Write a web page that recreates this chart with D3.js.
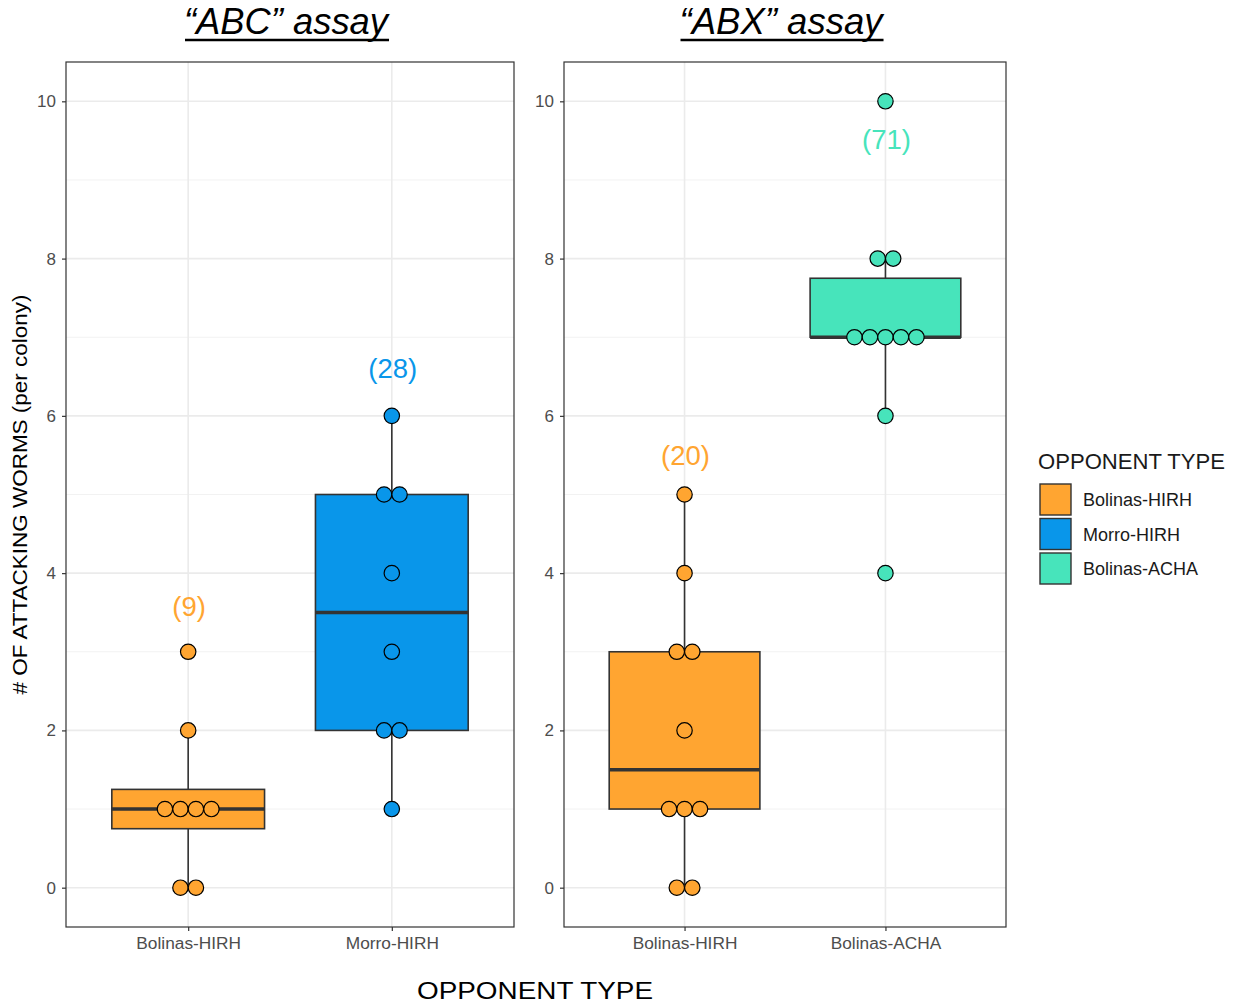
<!DOCTYPE html>
<html><head><meta charset="utf-8">
<script src="https://cdn.jsdelivr.net/npm/d3@7"></script>
<style>body{margin:0;background:#fff}svg{display:block}text{font-family:"Liberation Sans",Arial,sans-serif}</style>
</head><body><svg id="c" width="1237" height="1005"></svg>
<script>
// ---- data ----
const panelTitles = ["\u201CABC\u201D assay", "\u201CABX\u201D assay"];
const abcCategories = ["Bolinas-HIRH", "Morro-HIRH"];
const abxCategories = ["Bolinas-HIRH", "Bolinas-ACHA"];
const abcBolinasHIRH = [0, 0, 1, 1, 1, 1, 2, 3];
const abcMorroHIRH = [1, 2, 2, 3, 4, 5, 5, 6];
const abxBolinasHIRH = [0, 0, 1, 1, 1, 2, 3, 3, 4, 5];
const abxBolinasACHA = [4, 6, 7, 7, 7, 7, 7, 8, 8, 10];
const abcCountLabels = ["(9)", "(28)"];
const abxCountLabels = ["(20)", "(71)"];
const abcLabelY = [3.57, 6.6];
const abxLabelY = [5.5, 9.52];
const yTicks = [0, 2, 4, 6, 8, 10];
const yMinor = [1, 3, 5, 7, 9];
const legendLabels = ["Bolinas-HIRH", "Morro-HIRH", "Bolinas-ACHA"];
const legendColors = ["#FFA531", "#0996EA", "#47E4BB"];

(function () {
const color = d3.scaleOrdinal().domain(legendLabels).range(legendColors);
const svg = d3.select("#c");
const pTop = 62, pBottom = 927;
const y = d3.scaleLinear().domain([-0.5, 10.5]).range([pBottom, pTop]);

const panels = [
  {x0: 66, x1: 514, title: panelTitles[0], cats: abcCategories, vals: [abcBolinasHIRH, abcMorroHIRH], labels: abcCountLabels, ly: abcLabelY, tw: 204},
  {x0: 564, x1: 1006, title: panelTitles[1], cats: abxCategories, vals: [abxBolinasHIRH, abxBolinasACHA], labels: abxCountLabels, ly: abxLabelY, tw: 203}
];

const dotD = 15.5, dotR = 7.7;

panels.forEach(p => {
  const x = d3.scalePoint().domain(p.cats).range([p.x0, p.x1]).padding(0.6);
  const step = x.step();
  const g = svg.append("g");
  // grid
  g.selectAll(".ymin").data(yMinor).join("line")
    .attr("x1", p.x0).attr("x2", p.x1).attr("y1", d => y(d)).attr("y2", d => y(d))
    .attr("stroke", "#F2F2F2").attr("stroke-width", 1);
  g.selectAll(".ymaj").data(yTicks).join("line")
    .attr("x1", p.x0).attr("x2", p.x1).attr("y1", d => y(d)).attr("y2", d => y(d))
    .attr("stroke", "#EBEBEB").attr("stroke-width", 1.6);
  g.selectAll(".xg").data(p.cats).join("line")
    .attr("x1", d => x(d)).attr("x2", d => x(d)).attr("y1", pTop).attr("y2", pBottom)
    .attr("stroke", "#EBEBEB").attr("stroke-width", 1.6);

  p.cats.forEach((cat, i) => {
    const v = p.vals[i].slice().sort(d3.ascending);
    const q1 = d3.quantile(v, 0.25), med = d3.quantile(v, 0.5), q3 = d3.quantile(v, 0.75);
    const iqr = q3 - q1;
    const lo = d3.min(v.filter(d => d >= q1 - 1.5 * iqr));
    const hi = d3.max(v.filter(d => d <= q3 + 1.5 * iqr));
    const cx = x(cat), bw = step * 0.75;
    const fill = color(cat);
    g.append("line").attr("x1", cx).attr("x2", cx).attr("y1", y(q3)).attr("y2", y(hi)).attr("stroke", "#333").attr("stroke-width", 1.6);
    g.append("line").attr("x1", cx).attr("x2", cx).attr("y1", y(q1)).attr("y2", y(lo)).attr("stroke", "#333").attr("stroke-width", 1.6);
    g.append("rect").attr("x", cx - bw / 2).attr("width", bw).attr("y", y(q3)).attr("height", y(q1) - y(q3))
      .attr("fill", fill).attr("stroke", "#333").attr("stroke-width", 1.6);
    g.append("line").attr("x1", cx - bw / 2).attr("x2", cx + bw / 2).attr("y1", y(med)).attr("y2", y(med))
      .attr("stroke", "#333").attr("stroke-width", 3.4);
    // dots stacked centered
    const groups = d3.groups(v, d => d);
    const pts = [];
    groups.forEach(([val, arr]) => {
      arr.forEach((d, k) => pts.push({val, off: (k - (arr.length - 1) / 2) * dotD}));
    });
    g.selectAll(null).data(pts).join("circle")
      .attr("cx", d => cx + d.off).attr("cy", d => y(d.val)).attr("r", dotR)
      .attr("fill", fill).attr("stroke", "#000").attr("stroke-width", 1.2);
    g.append("text").attr("x", cx + 1).attr("y", y(p.ly[i])).attr("text-anchor", "middle").attr("dominant-baseline", "central")
      .attr("font-size", 27.5).attr("fill", fill).text(p.labels[i]);
  });

  // border
  g.append("rect").attr("x", p.x0).attr("y", pTop).attr("width", p.x1 - p.x0).attr("height", pBottom - pTop)
    .attr("fill", "none").attr("stroke", "#333").attr("stroke-width", 1.2);
  // axes
  const ya = svg.append("g").attr("transform", `translate(${p.x0},0)`)
    .call(d3.axisLeft(y).tickValues(yTicks).tickSize(4).tickPadding(6));
  ya.select(".domain").remove();
  ya.selectAll("line").attr("stroke", "#333").attr("stroke-width", 1.2);
  ya.selectAll("text").attr("font-size", 17).attr("fill", "#4D4D4D").attr("font-family", "Liberation Sans, Arial, sans-serif");
  const xa = svg.append("g").attr("transform", `translate(0,${pBottom})`)
    .call(d3.axisBottom(x).tickSize(4).tickPadding(6));
  xa.select(".domain").remove();
  xa.selectAll("line").attr("stroke", "#333").attr("stroke-width", 1.2);
  xa.selectAll("text").attr("font-size", 17.3).attr("fill", "#4D4D4D").attr("font-family", "Liberation Sans, Arial, sans-serif");

  // title
  const cxp = (p.x0 + p.x1) / 2;
  const t = svg.append("text").attr("x", cxp - 4).attr("y", 34).attr("text-anchor", "middle")
    .attr("font-size", 36).attr("font-style", "italic").attr("fill", "#000")
    .attr("textLength", p.tw).attr("lengthAdjust", "spacingAndGlyphs").text(p.title);
  const bb = t.node().getBBox();
  svg.append("line").attr("x1", bb.x + 1).attr("x2", bb.x + bb.width - 1).attr("y1", 40).attr("y2", 40)
    .attr("stroke", "#000").attr("stroke-width", 2.5);
});

// axis titles
svg.append("text").attr("transform", `translate(27,${(pTop + pBottom) / 2}) rotate(-90)`).attr("text-anchor", "middle")
  .attr("font-size", 20).attr("fill", "#000").attr("textLength", 400).attr("lengthAdjust", "spacingAndGlyphs")
  .text("# OF ATTACKING WORMS (per colony)");
svg.append("text").attr("x", 535).attr("y", 999).attr("text-anchor", "middle")
  .attr("font-size", 24.5).attr("fill", "#000").attr("textLength", 236).attr("lengthAdjust", "spacingAndGlyphs")
  .text("OPPONENT TYPE");

// legend
const lg = svg.append("g").attr("transform", "translate(1038,0)");
lg.append("text").attr("x", 0).attr("y", 469).attr("font-size", 21.5).attr("fill", "#1a1a1a")
  .attr("textLength", 187).attr("lengthAdjust", "spacingAndGlyphs").text("OPPONENT TYPE");
lg.selectAll("rect").data(legendLabels).join("rect")
  .attr("x", 2).attr("y", (d, i) => 484 + i * 34.5).attr("width", 31).attr("height", 31)
  .attr("fill", d => color(d)).attr("stroke", "#333").attr("stroke-width", 1.4);
lg.selectAll(".lt").data(legendLabels).join("text")
  .attr("x", 45).attr("y", (d, i) => 500 + i * 34.5).attr("dominant-baseline", "central")
  .attr("font-size", 18).attr("fill", "#1a1a1a").text(d => d);
})();
</script></body></html>
